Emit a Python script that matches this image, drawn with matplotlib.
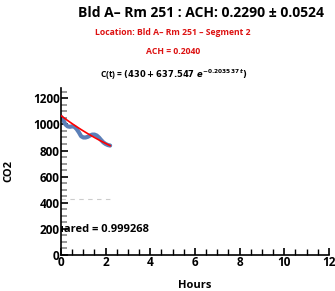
import numpy as np
import matplotlib
matplotlib.use('Agg')
from matplotlib import pyplot as plt
from matplotlib.ticker import MultipleLocator

plt.rcParams['font.family'] = ['Open Sans', 'DejaVu Sans']
plt.rcParams['font.weight'] = 'bold'

hours = [0.0, 0.1, 0.2, 0.3, 0.4, 0.5, 0.6, 0.7, 0.8, 0.9, 1.0, 1.1, 1.2, 1.3,
         1.4, 1.5, 1.6, 1.7, 1.8, 1.9, 2.0, 2.1, 2.2]
co2 = [1060, 1035, 1000, 985, 982, 985, 982, 965, 940, 910, 900, 900, 905, 915,
       922, 922, 915, 900, 880, 862, 850, 842, 838]

# fit parameters
c_inf = 430
c_amp = 637.547
k = 0.203537

fig = plt.figure(figsize=(3.35, 2.91), dpi=100)
ax = fig.add_axes([0.182, 0.124, 0.80, 0.574])

ax.plot(hours, co2, color='#5b7fb8', lw=3, solid_capstyle='round', zorder=2)
t_fit = np.array(hours)
ax.plot(t_fit, c_inf + c_amp * np.exp(-k * t_fit), color='red', lw=1.2, zorder=3)
ax.plot([hours[0], hours[-1]], [c_inf, c_inf], color='#cccccc', lw=0.8, ls=(0, (4, 4)))

ax.set_xlim(0, 12)
ax.set_ylim(0, 1280)
ax.xaxis.set_major_locator(MultipleLocator(2))
ax.xaxis.set_minor_locator(MultipleLocator(0.5))
ax.yaxis.set_major_locator(MultipleLocator(200))
ax.yaxis.set_minor_locator(MultipleLocator(50))
ax.tick_params(which='major', direction='in', length=5, width=1.2, labelsize=8.5, pad=1)
ax.tick_params(axis='x', which='minor', direction='in', length=4, width=1.0, color='black')
ax.tick_params(axis='y', which='minor', direction='in', length=4, width=1.2, color='#888888')
for s in ['top', 'right']:
    ax.spines[s].set_visible(False)
for s in ['left', 'bottom']:
    ax.spines[s].set_linewidth(1.2)

ax.set_xlabel('Hours', fontsize=8, fontweight='bold', labelpad=8)
ax.set_ylabel('CO2', fontsize=8, fontweight='bold', labelpad=13)

ax.text(-1.25, 195, 'R-squared = 0.999268', fontsize=8, fontweight='bold',
        va='center', ha='left', clip_on=True)

fig.text(0.60, 0.955, 'Bld A– Rm 251 : ACH: 0.2290 ± 0.0524', fontsize=10,
         fontweight='bold', ha='center', va='center')
fig.text(0.517, 0.887, 'Location: Bld A– Rm 251 – Segment 2', fontsize=6.2,
         fontweight='bold', color='#dd1111', ha='center', va='center')
fig.text(0.517, 0.822, 'ACH = 0.2040', fontsize=6.2, fontweight='bold',
         color='#dd1111', ha='center', va='center')
fig.text(0.517, 0.742, r'C(t) = $\left(430 + 637.547\ e^{-0.203537\,t}\right)$',
         fontsize=6, fontweight='bold', ha='center', va='center')

fig.savefig('out.png', dpi=100)
